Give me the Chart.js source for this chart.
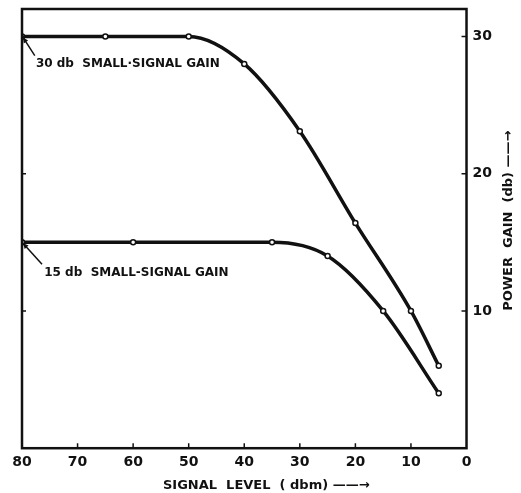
<!DOCTYPE html>
<html><head><meta charset="utf-8">
<script src="https://cdn.jsdelivr.net/npm/chart.js@4"></script>
<style>html,body{margin:0;padding:0;background:#fff}#wrap{width:521px;height:493px;position:relative}</style>
</head><body><div id="wrap"><canvas id="c"></canvas></div>
<script>
// Data
const signalLevel30 = [80, 65, 50, 40, 30, 20, 10, 5];
const gain30        = [30, 30, 30, 28, 23.1, 16.4, 10, 6];
const signalLevel15 = [80, 60, 35, 25, 15, 5];
const gain15        = [15, 15, 15, 14, 10, 4];
const xTickValues = [80, 70, 60, 50, 40, 30, 20, 10, 0];
const yTickValues = [10, 20, 30];
const label30 = '30 db  SMALL·SIGNAL GAIN';
const label15 = '15 db  SMALL-SIGNAL GAIN';
const xTitle = 'SIGNAL  LEVEL  ( dbm) ——→';
const yTitle = 'POWER  GAIN  (db) ——→';

const INK = '#111';
const FAMILY = '"DejaVu Sans", sans-serif';

const toPoints = (xs, ys) => xs.map((x, i) => ({x, y: ys[i]}));

function arrow(ctx, x0, y0, x1, y1) {
  ctx.beginPath(); ctx.moveTo(x0, y0); ctx.lineTo(x1, y1); ctx.stroke();
  const ang = Math.atan2(y1 - y0, x1 - x0), L = 6, W = 0.45;
  ctx.beginPath();
  ctx.moveTo(x1, y1);
  ctx.lineTo(x1 - L * Math.cos(ang - W), y1 - L * Math.sin(ang - W));
  ctx.lineTo(x1 - L * Math.cos(ang + W), y1 - L * Math.sin(ang + W));
  ctx.closePath(); ctx.fill();
}

const decorPlugin = {
  id: 'decor',
  afterDraw(chart) {
    const {ctx, chartArea: a, scales: {x, y}} = chart;
    ctx.save();
    ctx.strokeStyle = INK; ctx.fillStyle = INK;
    ctx.lineWidth = 2.5;
    ctx.strokeRect(a.left, a.top, a.right - a.left, a.bottom - a.top);
    ctx.lineWidth = 1.5;
    ctx.beginPath();
    xTickValues.forEach(v => {
      const px = x.getPixelForValue(v);
      if (px > a.left + 3 && px < a.right - 3) { ctx.moveTo(px, a.bottom); ctx.lineTo(px, a.bottom - 5); }
    });
    yTickValues.forEach(v => {
      const py = y.getPixelForValue(v);
      ctx.moveTo(a.right, py); ctx.lineTo(a.right - 5, py);
      ctx.moveTo(a.left, py); ctx.lineTo(a.left + 4, py);
    });
    ctx.stroke();

    // annotations
    ctx.font = 'bold 12px ' + FAMILY;
    ctx.textBaseline = 'middle'; ctx.textAlign = 'left';
    ctx.fillText(label30, x.getPixelForValue(77.5), y.getPixelForValue(28.0));
    ctx.fillText(label15, x.getPixelForValue(76.0), y.getPixelForValue(12.8));
    ctx.lineWidth = 1.5;
    arrow(ctx, x.getPixelForValue(77.7), y.getPixelForValue(28.6), x.getPixelForValue(80) + 1, y.getPixelForValue(30) + 1);
    arrow(ctx, x.getPixelForValue(76.4), y.getPixelForValue(13.4), x.getPixelForValue(80) + 1, y.getPixelForValue(15) + 1);

    // axis titles
    ctx.font = 'bold 13px ' + FAMILY;
    ctx.textAlign = 'center';
    ctx.fillText(xTitle, (a.left + a.right) / 2 + 22, chart.height - 7);
    ctx.translate(chart.width - 12, (y.getPixelForValue(10) + y.getPixelForValue(30)) / 2 + 47);
    ctx.rotate(-Math.PI / 2);
    ctx.fillText(yTitle, 0, 0);
    ctx.restore();
  }
};

const lineStyle = {
  showLine: true,
  borderColor: INK,
  borderWidth: 3.5,
  cubicInterpolationMode: 'monotone',
  pointRadius: 2.5,
  pointBackgroundColor: '#fff',
  pointBorderColor: INK,
  pointBorderWidth: 1.5,
  fill: false
};

new Chart(document.getElementById('c'), {
  type: 'scatter',
  data: {
    datasets: [
      Object.assign({label: label30, data: toPoints(signalLevel30, gain30)}, lineStyle),
      Object.assign({label: label15, data: toPoints(signalLevel15, gain15)}, lineStyle)
    ]
  },
  options: {
    responsive: true,
    maintainAspectRatio: false,
    animation: false,
    layout: {padding: {left: 22, right: 23, top: 9, bottom: 16}},
    plugins: {legend: {display: false}, tooltip: {enabled: false}},
    scales: {
      x: {
        type: 'linear', reverse: true, min: 0, max: 80,
        afterBuildTicks: s => { s.ticks = xTickValues.map(v => ({value: v})); },
        ticks: {color: INK, padding: 6, font: {family: FAMILY, size: 14, weight: 'bold'}},
        grid: {display: false, drawTicks: false},
        border: {display: false}
      },
      y: {
        type: 'linear', position: 'right', min: 0, max: 32,
        afterBuildTicks: s => { s.ticks = yTickValues.map(v => ({value: v})); },
        ticks: {color: INK, padding: 6, font: {family: FAMILY, size: 14, weight: 'bold', lineHeight: 0.4}},
        grid: {display: false, drawTicks: false},
        border: {display: false}
      }
    }
  },
  plugins: [decorPlugin]
});
</script>
</body></html>
